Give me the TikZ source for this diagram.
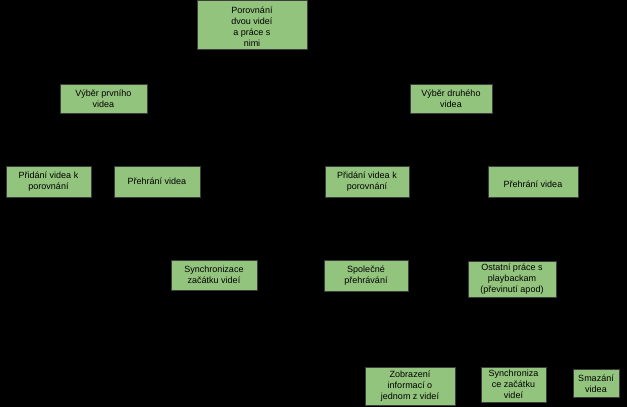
\documentclass[tikz,border=0pt]{standalone}
\usepackage{fontspec}
\setmainfont{Liberation Sans}
\definecolor{boxfill}{RGB}{147,196,125}
\definecolor{boxline}{RGB}{60,60,60}
\tikzset{
  x=1pt, y=-1pt,
  box/.style={draw=boxline, line width=0.6pt, fill=boxfill, inner sep=0pt},
  boxtext/.style={align=center, inner sep=0pt, font=\fontsize{9}{11}\selectfont, text=black}
}
% helper: box from left,top to right,bottom, text shifted down by #7
\newcommand{\mybox}[7]{%
  \node[box, minimum width=#4-#2, minimum height=#5-#3] (#1) at ({(#2+#4)/2},{(#3+#5)/2}) {};
  \node[boxtext] (#1t) at ([yshift=-#7pt]#1.center) {#6};}
\begin{document}
\begin{tikzpicture}
\fill[black] (0,0) rectangle (627,407);
\useasboundingbox (0,0) rectangle (627,407);
\mybox{root}{197}{0}{307}{49}{Porovnání\\dvou videí\\a práce s\\nimi}{2.5}
\mybox{vp}{60}{84}{147}{113}{Výběr prvního\\videa}{0.5}
\mybox{vd}{410}{84}{492}{113}{Výběr druhého\\videa}{0.5}
\mybox{pl}{6}{166}{91}{197}{Přidání videa k\\porovnání}{0}
\mybox{hl}{114}{166}{200}{197}{Přehrání videa}{0}
\mybox{pr}{325}{166}{409}{197}{Přidání videa k\\porovnání}{0.5}
\mybox{hr}{488}{166}{578}{197}{Přehrání videa}{2.5}
\mybox{sy}{171}{260}{257}{290}{Synchronizace\\začátku videí}{0}
\mybox{sp}{324}{260}{408}{291}{Společné\\přehrávání}{0}
\mybox{os}{468}{261}{556}{297}{Ostatní práce s\\playbackam\\(převinutí apod)}{0}
\mybox{zo}{365}{367}{455}{405}{Zobrazení\\informací o\\jednom z videí}{0}
\mybox{sc}{481}{367}{546}{402}{Synchroniza\\ce začátku\\videí}{0}
\mybox{sm}{573}{369}{619}{397}{Smazání\\videa}{0.5}
\end{tikzpicture}
\end{document}
